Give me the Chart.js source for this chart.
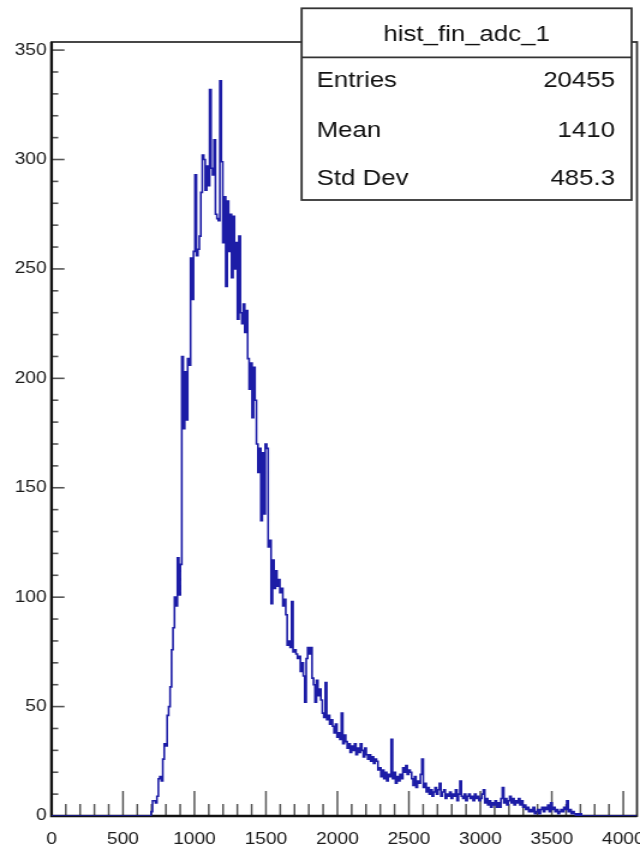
<!DOCTYPE html>
<html><head><meta charset="utf-8">
<script src="https://cdn.jsdelivr.net/npm/chart.js@4/dist/chart.umd.min.js"></script>
<style>html,body{margin:0;padding:0;background:#fff;overflow:hidden}
#c{display:block;width:640px;height:849px}</style>
</head><body>
<canvas id="c" width="533" height="849" style="width:640px;height:849px"></canvas>
<script>
// ---- data ----
const histTitle = 'hist_fin_adc_1';
const statLabels = ['Entries', 'Mean', 'Std Dev'];
const statValues = ['20455', '1410', '485.3'];
const xRange = [0, 4096];
const nBins = 400;
const histFirstBin = 68;
const histCounts = [
  2,7,7,6,9,17,18,16,26,33,32,46,50,59,76,86,100,96,118,101,115,
  210,177,203,181,209,206,255,236,258,293,256,259,265,285,302,300,286,297,288,
  332,296,293,309,275,273,272,336,299,262,283,242,281,258,275,246,274,250,262,
  227,265,230,225,234,221,231,209,195,207,182,205,190,170,157,168,135,166,138,
  170,168,123,126,97,117,104,112,105,108,102,104,96,99,92,78,80,77,98,75,76,74,
  72,73,66,70,64,52,72,77,74,77,63,60,52,62,55,58,53,47,45,61,44,46,42,44,41,38,
  42,36,38,35,47,33,37,34,31,33,29,32,30,33,28,31,29,33,30,27,31,28,26,28,25,27,
  24,26,25,21,22,18,21,17,20,16,19,18,35,17,20,15,18,16,19,17,22,20,23,19,21,20,
  17,14,18,13,16,15,19,26,13,15,11,13,10,12,9,11,13,10,12,15,9,11,12,8,10,9,11,8,
  10,9,12,7,10,16,9,8,10,7,9,10,8,9,7,10,8,9,7,8,10,12,6,8,5,7,4,6,5,7,4,6,4,8,13,
  6,8,5,7,9,6,8,5,7,6,8,5,7,4,5,3,4,2,3,2,4,1,2,3,1,3,4,2,4,3,5,2,6,3,4,2,3,1,2,3,
  2,4,3,7,2,3,1,2,1,0,1,0,1
];
const xTickLabels = [0, 500, 1000, 1500, 2000, 2500, 3000, 3500, 4000];
const yTickLabels = [0, 50, 100, 150, 200, 250, 300, 350];
const yMaxValue = 353.7;
const xMinorStep = 100;
const yMinorStep = 10;

// ---- build histogram steps ----
const binWidth = (xRange[1] - xRange[0]) / nBins;
const counts = new Array(nBins).fill(0);
histCounts.forEach((c, k) => { counts[histFirstBin + k] = c; });
const points = [{ x: xRange[0], y: counts[0] }];
counts.forEach((c, i) => points.push({ x: xRange[0] + (i + 1) * binWidth, y: c }));

const FONT = '"Liberation Sans", Arial, Helvetica, sans-serif';
Chart.defaults.font.family = FONT;

const rootFrame = {
  id: 'rootFrame',
  beforeDatasetsDraw(chart) {
    const { ctx, chartArea: a, scales: { x, y } } = chart;
    ctx.save();
    ctx.strokeStyle = '#555';
    ctx.lineWidth = 1.5;
    for (let v = 0; v <= xTickLabels[xTickLabels.length - 1]; v += xMinorStep) {
      const px = x.getPixelForValue(v);
      const major = xTickLabels.includes(v);
      ctx.beginPath();
      ctx.moveTo(px, a.bottom);
      ctx.lineTo(px, a.bottom - (major ? 25 : 12));
      ctx.stroke();
    }
    ctx.lineWidth = 1.6;
    for (let v = 0; v <= yTickLabels[yTickLabels.length - 1]; v += yMinorStep) {
      const py = y.getPixelForValue(v);
      const major = yTickLabels.includes(v);
      ctx.beginPath();
      ctx.moveTo(a.left, py);
      ctx.lineTo(a.left + (major ? 10.8 : 5.6), py);
      ctx.stroke();
    }
    ctx.strokeStyle = '#333';
    ctx.lineWidth = 1.8;
    ctx.strokeRect(a.left, a.top, a.right - a.left, a.bottom - a.top);
    ctx.strokeStyle = '#111';
    ctx.lineWidth = 2.4;
    ctx.beginPath();
    ctx.moveTo(a.left, a.top);
    ctx.lineTo(a.left, a.bottom);
    ctx.lineTo(a.right, a.bottom);
    ctx.stroke();
    ctx.restore();
  },
  afterDraw(chart) {
    const ctx = chart.ctx;
    const bx0 = 251.2, bx1 = 526, by0 = 8.3, by1 = 200, sep = 57.3;
    ctx.save();
    ctx.fillStyle = '#fff';
    ctx.fillRect(bx0, by0, bx1 - bx0, by1 - by0);
    ctx.strokeStyle = '#333';
    ctx.lineWidth = 1.8;
    ctx.strokeRect(bx0, by0, bx1 - bx0, by1 - by0);
    ctx.beginPath();
    ctx.moveTo(bx0, sep);
    ctx.lineTo(bx1, sep);
    ctx.stroke();
    ctx.fillStyle = '#111';
    ctx.font = '21.5px ' + FONT;
    ctx.textBaseline = 'alphabetic';
    ctx.textAlign = 'center';
    ctx.fillText(histTitle, (bx0 + bx1) / 2, 41);
    const baselines = [87.3, 136.7, 185];
    statLabels.forEach((lab, i) => {
      ctx.textAlign = 'left';
      ctx.fillText(lab, 263.7, baselines[i]);
      ctx.textAlign = 'right';
      ctx.fillText(statValues[i], 512.2, baselines[i]);
    });
    ctx.restore();
  }
};

new Chart(document.getElementById('c'), {
  type: 'line',
  data: {
    datasets: [{
      label: histTitle,
      data: points,
      borderColor: '#1c1ca6',
      borderWidth: 1.6,
      pointRadius: 0,
      stepped: 'after',
      fill: false,
      tension: 0
    }]
  },
  options: {
    responsive: false,
    devicePixelRatio: 1,
    animation: false,
    layout: { padding: { top: 42, right: 2.5, left: 0, bottom: 0 } },
    plugins: { legend: { display: false }, tooltip: { enabled: false } },
    scales: {
      x: {
        type: 'linear',
        min: xRange[0],
        max: xRange[1],
        grid: { display: false, drawTicks: false },
        border: { display: false },
        ticks: {
          font: { size: 16 }, color: '#1a1a1a', padding: 14,
          maxRotation: 0, autoSkip: false,
          callback: v => String(v)
        },
        afterBuildTicks: s => { s.ticks = xTickLabels.map(v => ({ value: v })); },
        afterFit: s => { s.height = 33; s.paddingLeft = 0; s.paddingRight = 0; }
      },
      y: {
        type: 'linear',
        min: 0,
        max: yMaxValue,
        grid: { display: false, drawTicks: false },
        border: { display: false },
        ticks: {
          font: { size: 16 }, color: '#1a1a1a', padding: 4,
          autoSkip: false,
          callback: v => String(v)
        },
        afterBuildTicks: s => { s.ticks = yTickLabels.map(v => ({ value: v })); },
        afterFit: s => { s.width = 42.9; s.paddingTop = 0; s.paddingBottom = 0; }
      }
    }
  },
  plugins: [rootFrame]
});
</script>
</body></html>
